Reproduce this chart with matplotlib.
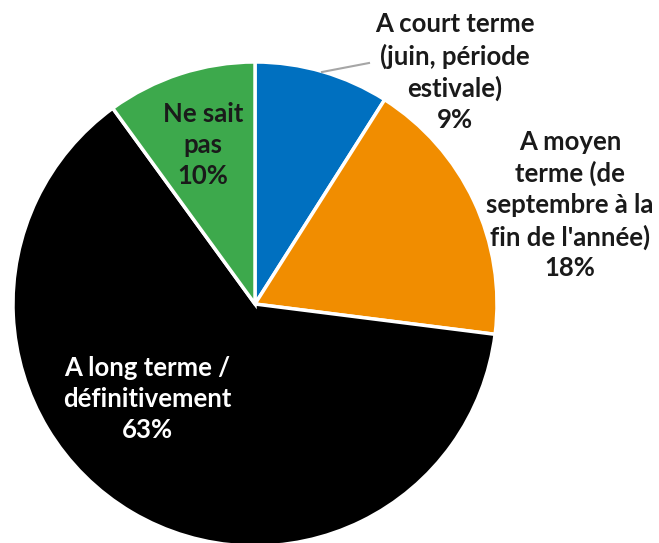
import matplotlib
matplotlib.use("Agg")
import matplotlib.pyplot as plt

categories = ["A court terme\n(juin, période\nestivale)",
              "A moyen\nterme (de\nseptembre à la\nfin de l'année)",
              "A long terme /\ndéfinitivement",
              "Ne sait\npas"]
values = [9, 18, 63, 10]
pct_labels = ["9%", "18%", "63%", "10%"]
colors = ["#0070C0", "#F18D00", "#000000", "#3DA94C"]
text_colors = ["#1a1a1a", "#1a1a1a", "#ffffff", "#1a1a1a"]

W, H = 659, 543
cx, cy, R = 255, 304, 242

fig = plt.figure(figsize=(W/100, H/100), dpi=100)
ax = fig.add_axes([(cx - R)/W, (H - cy - R)/H, 2*R/W, 2*R/H])

wedges, _ = ax.pie(values, colors=colors, startangle=90, counterclock=False,
                   radius=1, wedgeprops=dict(edgecolor="white", linewidth=2.5))
for w in wedges:
    w.set_clip_on(False)
ax.set_xlim(-1, 1)
ax.set_ylim(-1, 1)
ax.set_aspect("equal")
ax.axis("off")

def px2data(px, py):
    return (px - cx)/R, (cy - py)/R

label_px = [(455, 72), (570, 205), (147, 399), (203, 145)]
for cat, pct, tc, (px, py) in zip(categories, pct_labels, text_colors, label_px):
    x, y = px2data(px, py)
    ax.text(x, y, cat + "\n" + pct, ha="center", va="center", fontsize=18.5,
            fontweight="bold", family="Lato", color=tc, linespacing=1.34,
            clip_on=False)

x0, y0 = px2data(322, 72)
x1, y1 = px2data(369, 63)
ax.plot([x0, x1], [y0, y1], color="#A6A6A6", lw=1.5, clip_on=False)

fig.savefig("out.png", dpi=100)
